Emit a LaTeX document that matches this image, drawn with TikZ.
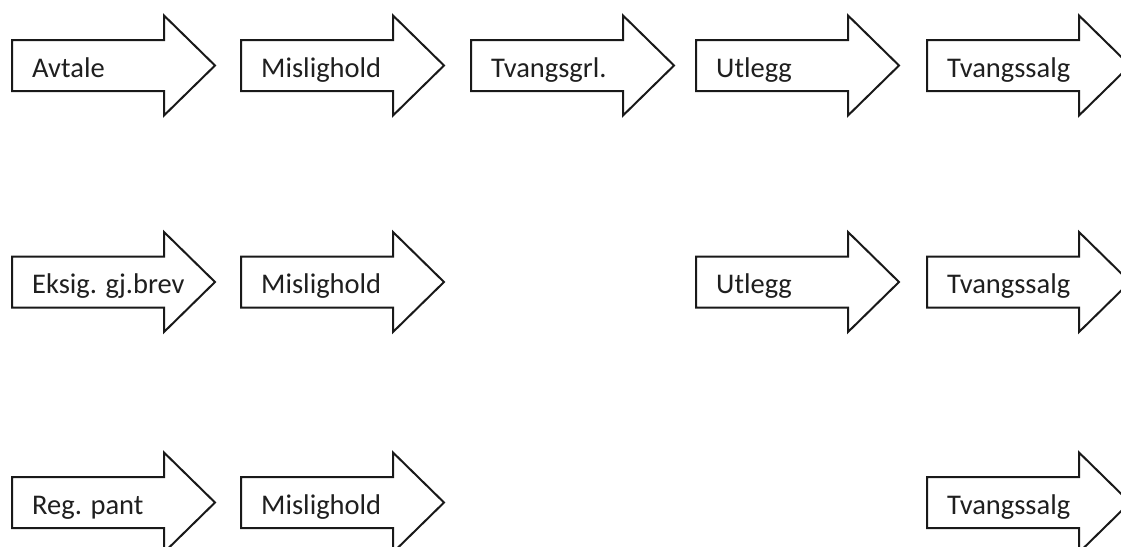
\documentclass[tikz,border=0pt]{standalone}
\usepackage{fontspec}
\setmainfont{Carlito}
\tikzset{
  flowshape/.style={draw=black!90, line width=2pt, fill=white, line join=miter},
  flowlabel/.style={anchor=base west, inner sep=0pt, font=\fontsize{28.5}{33}\selectfont, text=black!88}
}
% block arrow with a left-aligned label: #1 name, #2 left x, #3 centre y, #4 text
\newcommand\blockarrow[4]{%
  \draw[flowshape] (#2,#3-25.5) -- (#2+152,#3-25.5) -- (#2+152,#3-50)
     -- (#2+203,#3) -- (#2+152,#3+50) -- (#2+152,#3+25.5) -- (#2,#3+25.5) -- cycle;
  \node[flowlabel] (#1) at (#2+20,#3+11.5) {#4};
}
\begin{document}
\begin{tikzpicture}[x=1pt, y=-1pt]
  \useasboundingbox (0,0) rectangle (1121,546);
  \clip (0,0) rectangle (1121,546);
  % first row
  \blockarrow{a1}{12}{65.5}{Avtale}
  \blockarrow{a2}{241}{65.5}{Mislighold}
  \blockarrow{a3}{471}{65.5}{Tvangsgrl.}
  \blockarrow{a4}{696}{65.5}{Utlegg}
  \blockarrow{a5}{927}{65.5}{Tvangssalg}
  % second row
  \blockarrow{b1}{12}{282}{Eksig. gj.brev}
  \blockarrow{b2}{241}{282}{Mislighold}
  \blockarrow{b4}{696}{282}{Utlegg}
  \blockarrow{b5}{927}{282}{Tvangssalg}
  % third row
  \blockarrow{c1}{12}{502.5}{Reg. pant}
  \blockarrow{c2}{241}{502.5}{Mislighold}
  \blockarrow{c5}{927}{502.5}{Tvangssalg}
\end{tikzpicture}
\end{document}
